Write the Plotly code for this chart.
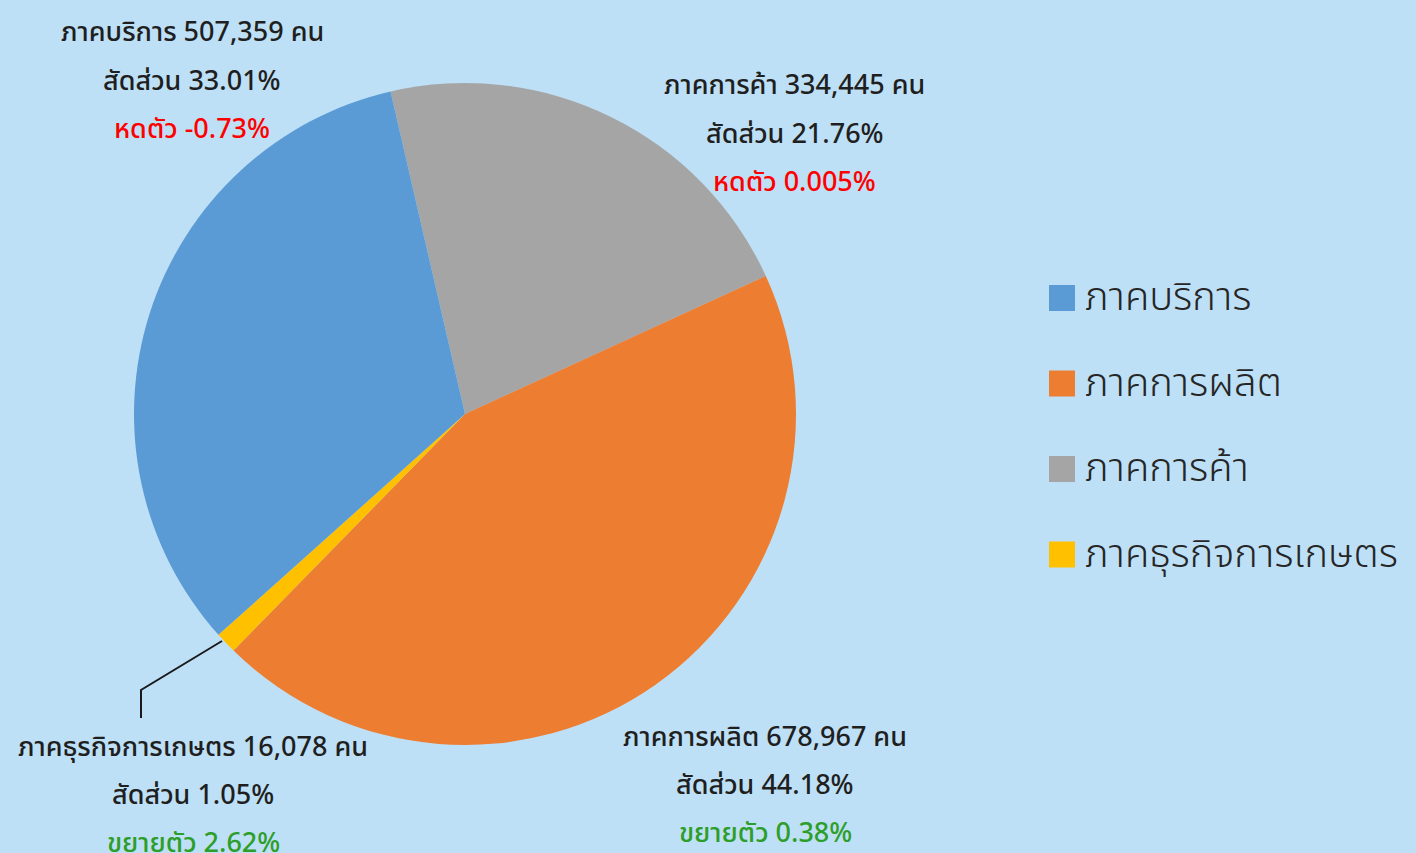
import plotly.graph_objects as go

# Employment by sector (persons), share and growth
categories = ["ภาคบริการ", "ภาคการผลิต", "ภาคการค้า", "ภาคธุรกิจการเกษตร"]
workers = [507359, 678967, 334445, 16078]
share_pct = ["33.01%", "44.18%", "21.76%", "1.05%"]
growth_word = ["หดตัว", "ขยายตัว", "หดตัว", "ขยายตัว"]
growth_pct = ["-0.73%", "0.38%", "0.005%", "2.62%"]
colors = ["#5B9BD5", "#ED7D31", "#A5A5A5", "#FFC000"]

# clockwise drawing order of the slices, starting at the top-left edge
slice_order = [2, 1, 3, 0]

BG = "#BEE0F6"
FONT = "Noto Sans Thai, Noto Sans, DejaVu Sans, sans-serif"
W, H = 1416, 853

fig = go.Figure()
fig.add_trace(go.Pie(
    labels=[categories[i] for i in slice_order],
    values=[workers[i] for i in slice_order],
    marker=dict(colors=[colors[i] for i in slice_order], line=dict(width=0)),
    sort=False,
    direction="clockwise",
    rotation=-13,
    textinfo="none",
    hoverinfo="label+value+percent",
    showlegend=False,
    domain=dict(x=[(465 - 331) / W, (465 + 331) / W],
                y=[(853 - 414 - 331) / H, (853 - 414 + 331) / H]),
))

# data labels: (centre x, first line y) in pixels for each category
label_pos = {0: (192, 33), 1: (765, 737), 2: (795, 86), 3: (193, 747)}
line_gap = 48
growth_color = {"หดตัว": "#FF0000", "ขยายตัว": "#2E9E2A"}

annotations = []
for i, (cx, cy) in label_pos.items():
    lines = [
        (f"{categories[i]} {workers[i]:,} คน", "#1F1F1F"),
        (f"สัดส่วน {share_pct[i]}", "#1F1F1F"),
        (f"{growth_word[i]} {growth_pct[i]}", growth_color[growth_word[i]]),
    ]
    for k, (txt, col) in enumerate(lines):
        annotations.append(dict(
            x=cx / W, y=1 - (cy + k * line_gap) / H, xref="paper", yref="paper",
            text=txt, showarrow=False, xanchor="center", yanchor="middle",
            font=dict(family=FONT, size=27, color=col, weight=500),
        ))

# legend drawn as coloured squares with labels
shapes = []
legend_x, legend_y0, legend_step, sq = 1049, 298, 85.5, 26
for i, name in enumerate(categories):
    yc = legend_y0 + i * legend_step
    shapes.append(dict(
        type="rect", xref="paper", yref="paper",
        x0=legend_x / W, x1=(legend_x + sq) / W,
        y0=1 - (yc + sq / 2) / H, y1=1 - (yc - sq / 2) / H,
        fillcolor=colors[i], line=dict(width=0),
    ))
    annotations.append(dict(
        x=(legend_x + sq + 8) / W, y=1 - yc / H, xref="paper", yref="paper",
        text=name, showarrow=False, xanchor="left", yanchor="middle",
        font=dict(family=FONT, size=40, color="#262626", weight=300),
    ))

# leader line for the small agricultural slice
shapes.append(dict(
    type="path", xref="paper", yref="paper",
    path=f"M {222 / W},{1 - 641 / H} L {141 / W},{1 - 690 / H} L {141 / W},{1 - 718 / H}",
    line=dict(color="#1A1A1A", width=2),
))

fig.update_layout(
    width=W, height=H,
    margin=dict(l=0, r=0, t=0, b=0),
    paper_bgcolor=BG, plot_bgcolor=BG,
    annotations=annotations, shapes=shapes,
    font=dict(family=FONT),
)

fig.write_html("out.html")
